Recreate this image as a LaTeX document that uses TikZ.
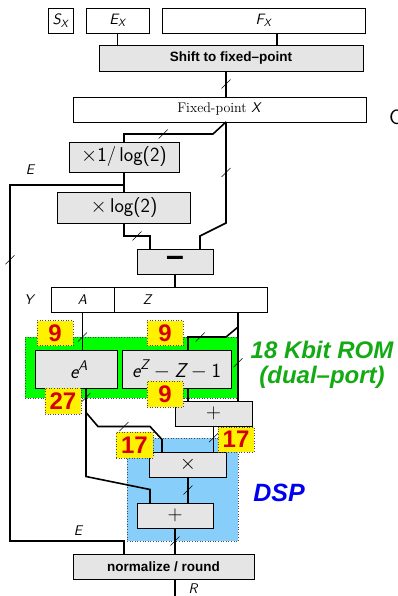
\documentclass[tikz,border=0pt]{standalone}
\usepackage{fontspec}
\newfontfamily\helv{Liberation Sans}
\usetikzlibrary{calc}
\definecolor{boxgray}{gray}{0.9}
\definecolor{romgreen}{RGB}{0,255,0}
\definecolor{dspblue}{RGB}{135,206,250}
\definecolor{numred}{RGB}{215,0,0}
\definecolor{romtext}{RGB}{20,170,20}
\definecolor{dsptext}{RGB}{0,0,240}

\begin{document}
\begin{tikzpicture}[x=1pt, y=-1pt,
    box/.style={draw, line width=.8pt, fill=boxgray, inner sep=0, outer sep=0, minimum height=25},
    field/.style={draw, line width=.8pt, fill=white, inner sep=0, outer sep=0, minimum height=25},
    region/.style={draw=black!70, dotted, line width=.6pt, inner sep=0, outer sep=0},
    numbox/.style={draw=black!70, dotted, line width=.6pt, fill=yellow, text=numred, inner sep=0,
        minimum width=36, minimum height=25, font=\helv\bfseries\fontsize{24}{24}\selectfont},
    bus/.style={line width=1.6pt},
    ebus/.style={line width=2.3pt},
    lbl/.style={inner sep=1pt, font=\sffamily\itshape\fontsize{14}{14}\selectfont},
    mth/.style={font=\sffamily\fontsize{20}{20}\selectfont},
    bold/.style={font=\helv\bfseries\fontsize{13.5}{13.5}\selectfont},
    tick/.pic={\draw[line width=.5pt, solid] (-4.5,4.5) -- (4.5,-4.5);}
  ]
  \useasboundingbox (0,0) rectangle (398,596);

  % input fields
  \node[field, minimum width=25, lbl, font=\sffamily\itshape\fontsize{15}{15}\selectfont] (sx) at (60.5,20.5) {S\textsubscript{X}};
  \node[field, minimum width=63, lbl, font=\sffamily\itshape\fontsize{15}{15}\selectfont] (ex) at (117.5,20.5) {E\textsubscript{X}};
  \node[field, minimum width=203, lbl, font=\sffamily\itshape\fontsize{15}{15}\selectfont] (fx) at (263.5,20.5) {F\textsubscript{X}};
  \node[box, minimum width=264, minimum height=26, bold] (shift) at (231,58) {Shift to fixed–point};
  \node[field, minimum width=293, font=\fontsize{14}{14}\selectfont] (fixp) at (219.5,109.5) {Fixed-point \textsf{\textit{X}}};
  \node[font=\sffamily\fontsize{21}{21}\selectfont, anchor=west, inner sep=0] (cut) at (389,117) {C};

  \node[box, minimum width=110, minimum height=30, mth] (inv) at (124,157) {$\times$1/\,log(2)};
  \node[box, minimum width=133, minimum height=31, mth] (mul) at (124,207.5) {$\times$\,log(2)};
  \node[box, minimum width=76, font=\helv\bfseries\fontsize{32}{32}\selectfont] (sub) at (175,261.5) {–};

  \node[field, minimum width=63, lbl] (ya) at (82.5,299.5) {A};
  \node[field, minimum width=153] (yz) at (190.5,299.5) {};
  \node[lbl] (zlbl) at (147,299.5) {Z};
  \node[lbl] (ylbl) at (29,300) {Y};

  % ROM and DSP areas
  \node[region, fill=romgreen, minimum width=213, minimum height=61] (rom) at (131.5,367.5) {};
  \node[region, fill=dspblue, minimum width=111, minimum height=103] (dsp) at (182.5,489.5) {};
  \node[font=\helv\bfseries\itshape\fontsize{24}{25}\selectfont, text=romtext, align=center] (romlbl) at (322,365) {18 Kbit ROM\\(dual–port)};
  \node[font=\helv\bfseries\itshape\fontsize{25}{25}\selectfont, text=dsptext] (dsplbl) at (279,493) {DSP};

  \node[box, minimum width=82, minimum height=38, mth] (ea) at (76,369.5) {\hspace{6pt}\itshape e\textsuperscript{A}};
  \node[box, minimum width=109, minimum height=38, mth] (ez) at (176.5,369.5) {{\itshape e\textsuperscript{Z}}${}-{}${\itshape Z}${}-{}$1};
  \node[box, minimum width=77, mth] (addz) at (213.5,413.5) {$+$};
  \node[box, minimum width=77, mth] (mulx) at (188,464.5) {$\times$};
  \node[box, minimum width=76, mth] (adde) at (175,515.5) {$+$};
  \node[box, minimum width=181, bold] (norm) at (163.5,566.5) {normalize / round};

  % connectors
  \draw[bus] (ex.south) -- (ex.south |- shift.north);
  \draw[bus] ([xshift=13.5]fx.south) -- ([xshift=13.5]fx.south |- shift.north);
  \draw[bus] ([xshift=-5]shift.south) -- pic[pos=.5]{tick} ([xshift=-5]shift.south |- fixp.north);
  \draw[bus] ([xshift=6.5]fixp.south) -- ++(-13,12) -- pic[pos=.56]{tick} ++(-89,0) -- (inv.north);
  \draw[bus] ([xshift=6.5]fixp.south) -- pic[pos=.5]{tick} ++(0,101) -- ++(-26,13) -- ([xshift=25]sub.north);
  \draw[bus] (inv.south) -- (inv.south |- mul.north);
  \path (inv.south) -- ++(0,13) coordinate (ebr);
  \draw[ebus] (ebr) -- ++(-114,0) -- pic[pos=.21]{tick} ++(0,356) -| ([xshift=-39.5]norm.north);
  \draw[bus] (mul.south) -- ++(0,13) -- pic[pos=.5]{tick} ++(26,0) -- ([xshift=-25]sub.north);
  \draw[bus] (sub.south) -- (sub.south |- yz.north);
  \draw[bus] (ya.south) -- pic[pos=.65]{tick} (ya.south |- ea.north);
  \draw[bus] ([xshift=47.5]yz.south) -- ++(0,15) -- ++(-12,10) -- pic[pos=.68]{tick} ++(-38,0) -- ([xshift=11.5]ez.north);
  \draw[bus] ([xshift=47.5]yz.south) -- pic[pos=.57]{tick} ([xshift=24.5]addz.north);
  \draw[bus] ([xshift=11.5]ez.south) -- ([xshift=11.5]ez.south |- addz.north);
  \draw[bus] (addz.south) -- pic[pos=.45]{tick} (addz.south |- mulx.north);
  \draw[bus] ([xshift=10]ea.south) -- pic[pos=.375]{tick} ++(0,24) -- ++(12,14) -- pic[pos=.5]{tick} ++(52,0) -- ++(12,13) -- ([xshift=-26]mulx.north);
  \draw[bus] ([xshift=10]ea.south) -- ++(0,88) -- ++(64,13) -- ([xshift=-25]adde.north);
  \draw[bus] (mulx.south) -- pic[pos=.5]{tick} (mulx.south |- adde.north);
  \draw[bus] (adde.south) -- pic[pos=.5]{tick} (adde.south |- norm.north);
  \draw[bus] ([xshift=11.5]norm.south) -- ++(0,18) coordinate (out);

  \node[lbl] (elbl1) at (30,170) {E};
  \node[lbl] (elbl2) at (78,531) {E};
  \node[lbl] (rlbl) at (193,588.5) {R};

  % word widths
  \node[numbox] (na) at (55,333) {9};
  \node[numbox] (nz) at (165,333) {9};
  \node[numbox, minimum height=26] (nea) at (63,401) {27};
  \node[numbox, minimum height=26] (nez) at (165,394) {9};
  \node[numbox, minimum width=37, minimum height=26] (nm1) at (134.5,445) {17};
  \node[numbox] (nm2) at (236,439.5) {17};
\end{tikzpicture}
\end{document}
